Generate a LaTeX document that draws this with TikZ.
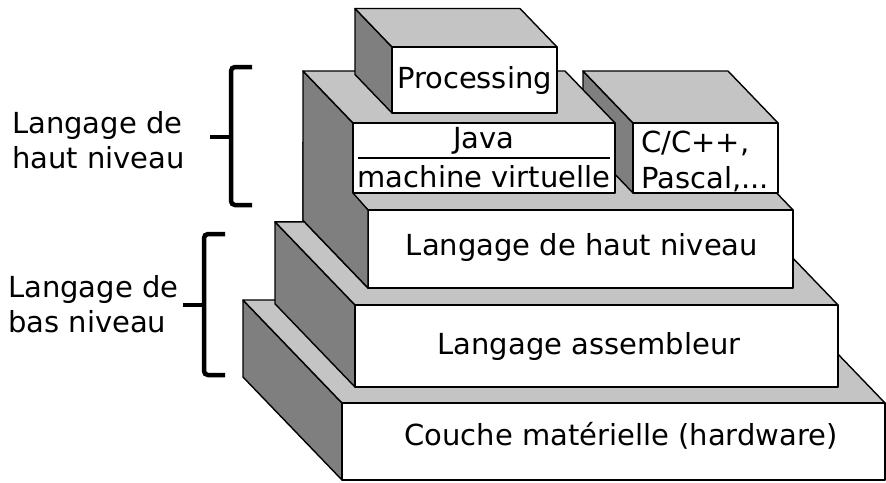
\documentclass[tikz,border=0pt]{standalone}
\usepackage{fontspec}
\setmainfont{DejaVu Sans}
\definecolor{sidegray}{HTML}{7F7F7F}
\definecolor{topgray}{HTML}{C4C4C4}
\tikzset{
  sideface/.style={fill=sidegray, draw=black, line width=1.4pt, line join=round},
  topface/.style={fill=topgray, draw=black, line width=1.4pt, line join=round},
  frontface/.style={fill=white, draw=black, line width=1.4pt, line join=round},
  lbl/.style={inner sep=0pt, font=\fontsize{29}{35}\selectfont},
  bracestroke/.style={line width=4.5pt, rounded corners=4pt},
  rule/.style={line width=1.4pt},
}
% x1 y1 x2 y2 depth : front face rectangle, depth receding up-left
\newcommand{\slabbox}[5]{%
  \filldraw[sideface] (#1,#2) -- ({#1-#5},{#2-1.04*#5}) -- ({#1-#5},{#4-1.04*#5}) -- (#1,#4) -- cycle;
  \filldraw[topface] (#1,#2) -- (#3,#2) -- ({#3-#5},{#2-1.04*#5}) -- ({#1-#5},{#2-1.04*#5}) -- cycle;
  \filldraw[frontface] (#1,#2) rectangle (#3,#4);
}
\begin{document}
\begin{tikzpicture}[x=1pt, y=-1pt]
\useasboundingbox (0,0) rectangle (886,482);
% bottom slab
\slabbox{342}{403}{885}{480}{99}
% middle slab
\slabbox{355}{305}{838}{387}{80}
% top slab
\slabbox{368}{210}{793}{288}{65}
% C/C++ box
\slabbox{633}{123}{778}{193}{50}
% merged left face of top slab and Java box
\filldraw[sideface] (303,71) -- (353,123) -- (353,193) -- (368,210) -- (368,288) -- (303,220.4) -- cycle;
% Java box
\filldraw[topface] (353,123) -- (615,123) -- (565,71) -- (303,71) -- cycle;
\filldraw[frontface] (353,123) rectangle (615,193);
% Processing box
\slabbox{392}{47}{557}{113}{37}

% texts
\node[lbl] (proc) at (474.5,80) {Processing};
\node[lbl, anchor=base] (java) at (484,148) {Java};
\coordinate (rl) at (358,158);
\coordinate (rr) at (610,158);
\draw[rule] (rl) -- (rr);
\node[lbl, anchor=base] (vm) at (484,187) {machine virtuelle};
\node[lbl, anchor=base west] (cpp) at (641,152) {C/C++,};
\node[lbl, anchor=base west] (pas) at (641,188) {Pascal,...};
\node[lbl] (hl) at (582,247) {Langage de haut niveau};
\node[lbl] (asm) at (589,346) {Langage assembleur};
\node[lbl] (hw) at (621,436) {Couche matérielle (hardware)};

\node[lbl, anchor=base west] (hl1) at (12,133) {Langage de};
\node[lbl, anchor=base west] (hl2) at (12,168) {haut niveau};
\node[lbl, anchor=base west] (bl1) at (8,297) {Langage de};
\node[lbl, anchor=base west] (bl2) at (8,332) {bas niveau};

% braces
\draw[bracestroke] (252,67) -- (231,67) -- (231,205) -- (252,205);
\draw[line width=4.5pt] (210,137) -- (231,137);
\draw[bracestroke] (225,234) -- (204,234) -- (204,375) -- (225,375);
\draw[line width=4.5pt] (183,305) -- (204,305);
\end{tikzpicture}
\end{document}
